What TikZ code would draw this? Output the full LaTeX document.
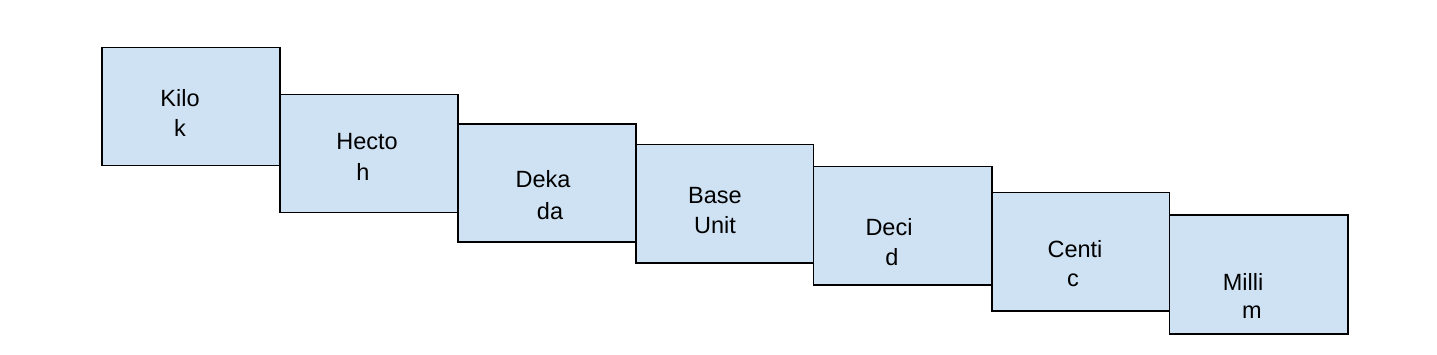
\documentclass[tikz,border=0pt]{standalone}
\usepackage{fontspec}
\setmainfont{Liberation Sans}
\definecolor{boxfill}{HTML}{CFE2F3}
\begin{document}
\begin{tikzpicture}[x=1pt,y=-1pt,
  unitbox/.style={draw=black,line width=1.6pt,fill=boxfill},
  lbl/.style={inner sep=0pt,anchor=center,font=\fontsize{23.5}{28}\selectfont}]
\useasboundingbox (0,0) rectangle (1437,354);
\draw[unitbox] (102,47.5) rectangle (280,165.5) coordinate (kiloBR);
\draw[unitbox] (280,94.5) rectangle (458,212.5);
\draw[unitbox] (458,124) rectangle (636,242);
\draw[unitbox] (636,144.5) rectangle (813.5,263);
\draw[unitbox] (813.5,166.5) rectangle (992,285);
\draw[unitbox] (992,192.5) rectangle (1169.5,311);
\draw[unitbox] (1169.5,215) rectangle (1348,334);
\node[lbl] (k1) at (180,98) {Kilo};
\node[lbl] (k2) at (180,128) {k};
\node[lbl] (h1) at (367,142) {Hecto};
\node[lbl] (h2) at (363,172) {h};
\node[lbl] (d1) at (543,179) {Deka};
\node[lbl] (d2) at (550,211) {da};
\node[lbl] (b1) at (715,196) {Base};
\node[lbl] (b2) at (715,225) {Unit};
\node[lbl] (e1) at (889,227) {Deci};
\node[lbl] (e2) at (892,257) {d};
\node[lbl] (c1) at (1075,249) {Centi};
\node[lbl] (c2) at (1073,280) {c};
\node[lbl] (m1) at (1243,282) {Milli};
\node[lbl] (m2) at (1252,312) {m};
\end{tikzpicture}
\end{document}
